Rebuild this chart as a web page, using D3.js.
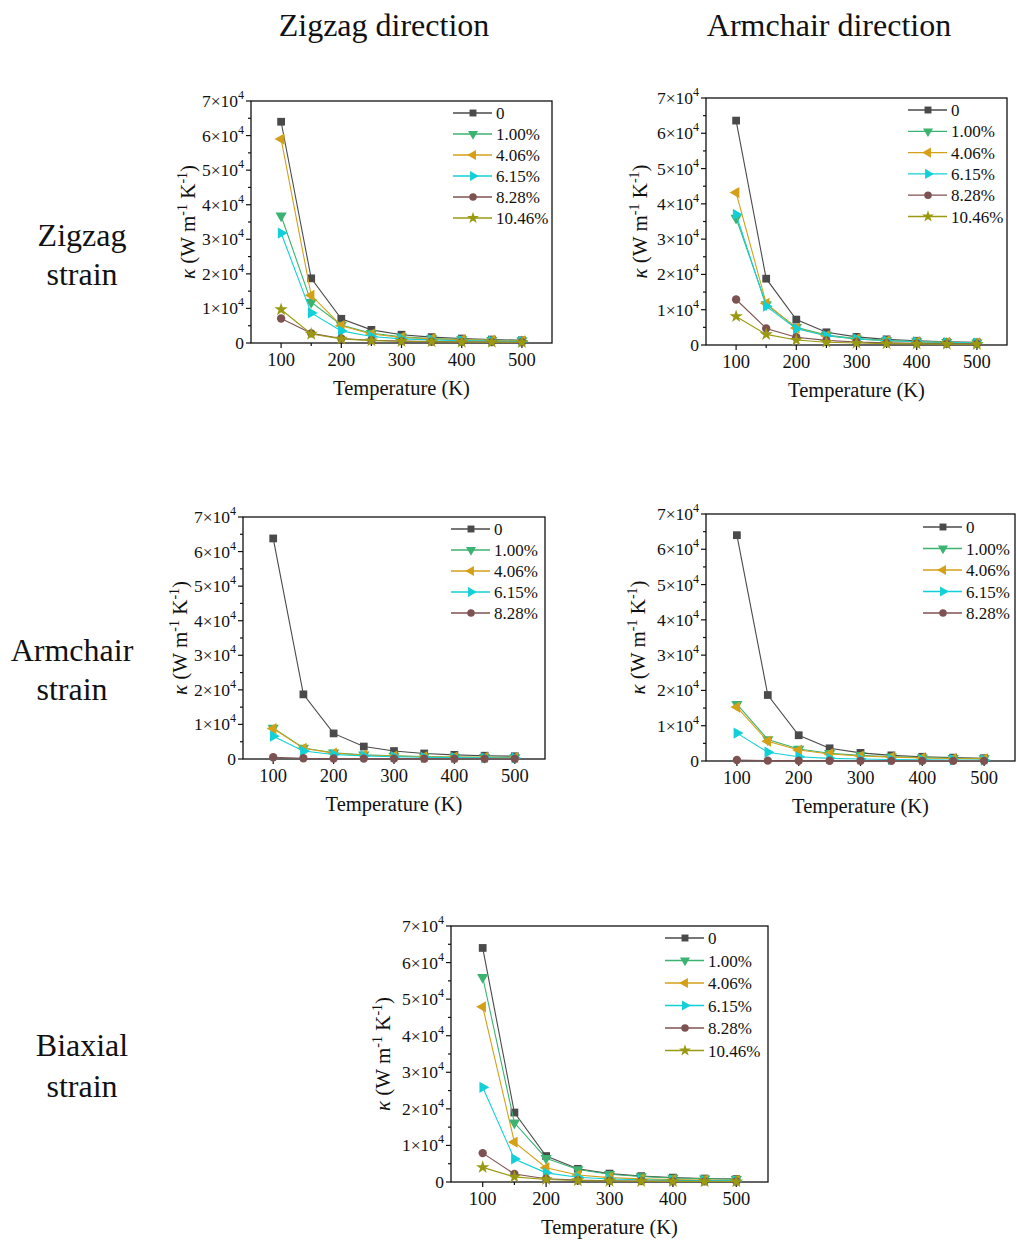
<!DOCTYPE html>
<html lang="en">
<head>
<meta charset="UTF-8">
<title>Thermal conductivity vs temperature</title>
<script src="https://cdn.jsdelivr.net/npm/d3@7"></script>
<style>
  body { margin: 0; background: #fff; }
  svg text { font-family: "Liberation Serif", "Times New Roman", serif; fill: #111; }
</style>
</head>
<body>
<svg id="fig" width="1016" height="1245"></svg>
<script>
// temperatures (K)
var temps = [100, 150, 200, 250, 300, 350, 400, 450, 500];
var strainNames = ["0", "1.00%", "4.06%", "6.15%", "8.28%", "10.46%"];
var xTickLabels = [100, 200, 300, 400, 500];
var yTickLabels = ["0", "1×10", "2×10", "3×10", "4×10", "5×10", "6×10", "7×10"];

// zigzag direction, zigzag strain
var zzDirZzStrain = [
  [64000, 18700, 7000, 3800, 2400, 1700, 1300, 1000, 800],
  [36800, 11800, 5200, 2800, 1800, 1300, 1000, 800, 700],
  [59000, 13800, 5000, 2600, 1600, 1200, 900, 750, 600],
  [31800, 8700, 3500, 1900, 1200, 900, 700, 550, 450],
  [7100, 2800, 1300, 800, 550, 400, 320, 260, 220],
  [9700, 2600, 1200, 700, 500, 380, 300, 250, 200]
];
// armchair direction, zigzag strain
var acDirZzStrain = [
  [63600, 18800, 7200, 3600, 2300, 1600, 1200, 900, 750],
  [36000, 11500, 5000, 2800, 1800, 1300, 1000, 800, 650],
  [43200, 11800, 4800, 2600, 1700, 1200, 900, 750, 600],
  [37000, 11000, 4600, 2600, 1700, 1200, 900, 700, 600],
  [12900, 4700, 2200, 1300, 850, 600, 450, 380, 320],
  [8100, 3000, 1400, 800, 550, 400, 320, 260, 220]
];
// zigzag direction, armchair strain
var zzDirAcStrain = [
  [63800, 18700, 7400, 3600, 2300, 1600, 1200, 950, 800],
  [9000, 3200, 1800, 1200, 900, 700, 600, 500, 450],
  [8800, 3100, 1700, 1100, 850, 650, 550, 470, 400],
  [6600, 2300, 1300, 900, 650, 500, 400, 350, 300],
  [500, 200, 150, 120, 100, 90, 80, 70, 60]
];
// armchair direction, armchair strain
var acDirAcStrain = [
  [64000, 18700, 7300, 3600, 2300, 1600, 1200, 950, 800],
  [16100, 6100, 3400, 2200, 1600, 1200, 950, 800, 700],
  [15300, 5600, 3100, 2000, 1400, 1100, 850, 700, 600],
  [7900, 2500, 1200, 750, 550, 420, 350, 300, 250],
  [300, 100, 80, 60, 50, 40, 35, 30, 25]
];
// biaxial strain
var biaxial = [
  [64000, 19000, 7100, 3600, 2300, 1600, 1200, 950, 800],
  [56000, 16200, 6500, 3400, 2100, 1500, 1100, 900, 750],
  [47900, 10900, 3900, 1900, 1200, 850, 650, 520, 430],
  [25900, 6300, 2500, 1300, 800, 600, 450, 370, 300],
  [7900, 2200, 900, 500, 350, 260, 200, 170, 140],
  [4000, 1400, 700, 400, 280, 210, 170, 140, 120]
];

var colors = ["#4a4a4a", "#3cb371", "#d4a017", "#12d0d8", "#7f5252", "#9a9a12"];
var symbols = [
  {type: d3.symbolSquare, rot: 0, size: 60},
  {type: d3.symbolTriangle, rot: 180, size: 55},
  {type: d3.symbolTriangle, rot: -90, size: 55},
  {type: d3.symbolTriangle, rot: 90, size: 55},
  {type: d3.symbolCircle, rot: 0, size: 55},
  {type: d3.symbolStar, rot: 0, size: 55}
];

var svg = d3.select("#fig");

function drawPanel(p) {
  var x = d3.scaleLinear().domain([50, 550]).range([p.left, p.right]);
  var y = d3.scaleLinear().domain([0, 70000]).range([p.bottom, p.top]);
  var g = svg.append("g");

  // frame
  g.append("rect").attr("x", p.left).attr("y", p.top)
    .attr("width", p.right - p.left).attr("height", p.bottom - p.top)
    .attr("fill", "none").attr("stroke", "#111").attr("stroke-width", 1.3);

  // x ticks
  d3.range(100, 501, 50).forEach(function (t) {
    var major = t % 100 == 0;
    g.append("line").attr("x1", x(t)).attr("x2", x(t))
      .attr("y1", p.bottom).attr("y2", p.bottom + (major ? 5 : 3))
      .attr("stroke", "#111").attr("stroke-width", 1.2);
  });
  xTickLabels.forEach(function (t) {
    g.append("text").attr("x", x(t)).attr("y", p.bottom + 23)
      .attr("text-anchor", "middle").attr("font-size", 18.5).text(t);
  });

  // y ticks
  d3.range(0, 70001, 5000).forEach(function (v) {
    var major = v % 10000 == 0;
    g.append("line").attr("x1", p.left).attr("x2", p.left - (major ? 5 : 3))
      .attr("y1", y(v)).attr("y2", y(v))
      .attr("stroke", "#111").attr("stroke-width", 1.2);
  });
  yTickLabels.forEach(function (lab, i) {
    var t = g.append("text").attr("x", p.left - 7).attr("y", y(i * 10000) + 6)
      .attr("text-anchor", "end").attr("font-size", 17.5);
    if (i == 0) { t.text(lab); return; }
    t.append("tspan").text(lab);
    t.append("tspan").attr("font-size", 12).attr("dy", -8).text("4");
  });

  // axis titles
  g.append("text").attr("x", (p.left + p.right) / 2).attr("y", p.bottom + 52)
    .attr("text-anchor", "middle").attr("font-size", 20.5).text("Temperature (K)");
  var yl = g.append("text").attr("font-size", 21).attr("text-anchor", "middle")
    .attr("transform", "translate(" + p.ylabX + "," + ((p.top + p.bottom) / 2) + ") rotate(-90)");
  yl.append("tspan").attr("font-style", "italic").text("κ");
  yl.append("tspan").text(" (W m");
  yl.append("tspan").attr("font-size", 14).attr("dy", -8).text("-1");
  yl.append("tspan").attr("dy", 8).text(" K");
  yl.append("tspan").attr("font-size", 14).attr("dy", -8).text("-1");
  yl.append("tspan").attr("dy", 8).text(")");

  var line = d3.line().x(function (d, i) { return x(temps[i]); }).y(function (d) { return y(d); });

  p.data.forEach(function (series, s) {
    g.append("path").attr("d", line(series)).attr("fill", "none")
      .attr("stroke", colors[s]).attr("stroke-width", 1.1);
    series.forEach(function (v, i) {
      g.append("path")
        .attr("d", d3.symbol().type(symbols[s].type).size(symbols[s].size)())
        .attr("transform", "translate(" + x(temps[i]) + "," + y(v) + ") rotate(" + symbols[s].rot + ")")
        .attr("fill", colors[s]);
    });
  });

  // legend
  p.data.forEach(function (series, s) {
    var ly = p.legY + s * p.legStep;
    g.append("line").attr("x1", p.legX).attr("x2", p.legX + 39)
      .attr("y1", ly).attr("y2", ly).attr("stroke", colors[s]).attr("stroke-width", 1.3);
    g.append("path")
      .attr("d", d3.symbol().type(symbols[s].type).size(symbols[s].size * 0.8)())
      .attr("transform", "translate(" + (p.legX + 20) + "," + ly + ") rotate(" + symbols[s].rot + ")")
      .attr("fill", colors[s]);
    g.append("text").attr("x", p.legX + 43).attr("y", ly + 6)
      .attr("font-size", 17).text(strainNames[s]);
  });
}

drawPanel({left: 251, right: 552, top: 101, bottom: 343, ylabX: 195, legX: 453, legY: 113, legStep: 21, data: zzDirZzStrain});
drawPanel({left: 706, right: 1007, top: 98, bottom: 345, ylabX: 647, legX: 908, legY: 110, legStep: 21.3, data: acDirZzStrain});
drawPanel({left: 243, right: 545, top: 517, bottom: 759, ylabX: 187, legX: 451, legY: 529, legStep: 21, data: zzDirAcStrain});
drawPanel({left: 706, right: 1015, top: 514, bottom: 761, ylabX: 645, legX: 923, legY: 527, legStep: 21.5, data: acDirAcStrain});
drawPanel({left: 451, right: 768, top: 926, bottom: 1182, ylabX: 390, legX: 665, legY: 938, legStep: 22.5, data: biaxial});

// column and row titles
var big = 32;
svg.append("text").attr("x", 384).attr("y", 36).attr("text-anchor", "middle").attr("font-size", big).text("Zigzag direction");
svg.append("text").attr("x", 829).attr("y", 36).attr("text-anchor", "middle").attr("font-size", big).text("Armchair direction");
[["Zigzag", 82, 246], ["strain", 82, 285], ["Armchair", 72, 661], ["strain", 72, 700], ["Biaxial", 82, 1056], ["strain", 82, 1097]]
  .forEach(function (r) {
    svg.append("text").attr("x", r[1]).attr("y", r[2]).attr("text-anchor", "middle")
      .attr("font-size", big).text(r[0]);
  });
</script>
</body>
</html>
